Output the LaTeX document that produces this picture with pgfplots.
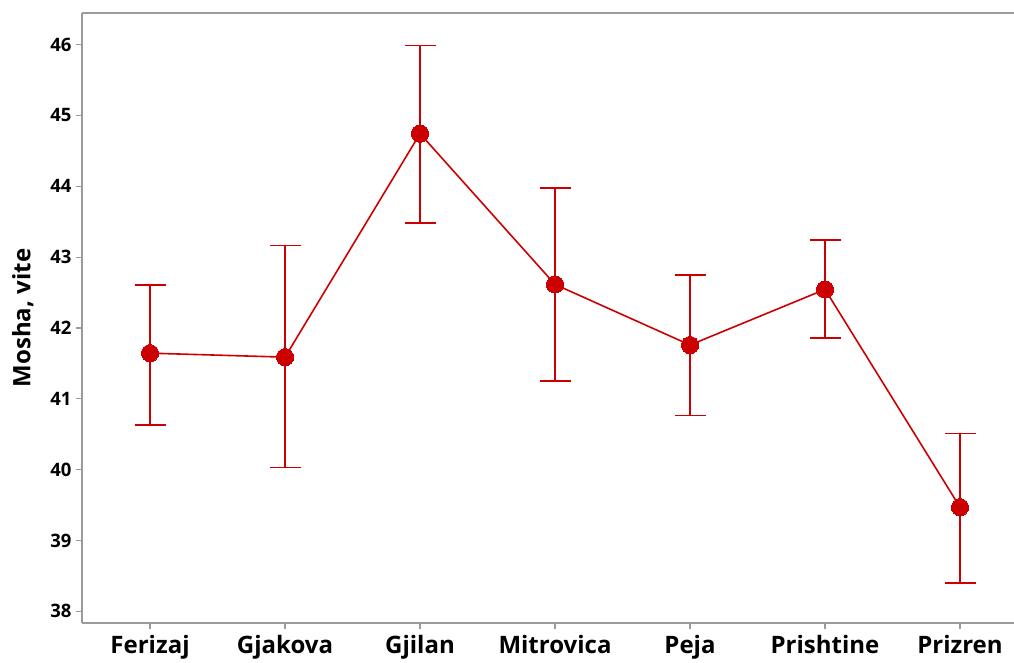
\documentclass[border=0pt]{standalone}
\usepackage{pgfplots}
\pgfplotsset{compat=1.18}
\usepackage{pgfplotstable}
\usepackage{fontspec}
\setmainfont{Open Sans}
\definecolor{mred}{RGB}{204,0,0}
\definecolor{axgray}{RGB}{155,155,155}
\pgfplotstableread{
x y ep em
0 41.644 0.966 1.011
1 41.588 1.577 1.558
2 44.743 1.243 1.257
3 42.614 1.361 1.360
4 41.759 0.991 0.995
5 42.544 0.692 0.688
6 39.470 1.040 1.070
}\datatable
\begin{document}
\begin{tikzpicture}
\begin{axis}[
  scale only axis,
  width=932pt, height=610pt,
  xmin=-0.504, xmax=6.4,
  ymin=37.835, ymax=46.446,
  axis x line*=bottom, axis y line*=left,
  axis line style={axgray, line width=1.5pt, -},
  xtick={0,1,2,3,4,5,6},
  xticklabels={Ferizaj,Gjakova,Gjilan,Mitrovica,Peja,Prishtine,Prizren},
  ytick={38,39,40,41,42,43,44,45,46},
  tick style={axgray, line width=1.2pt},
  major tick length=6pt,
  tick align=outside,
  /pgf/number format/assume math mode=true,
  xticklabel style={font=\fontsize{24}{28}\selectfont\bfseries, yshift=-3pt},
  yticklabel style={font=\fontsize{18.5}{22}\selectfont\bfseries, xshift=-1pt},
  ylabel={Mosha, vite},
  ylabel shift=10pt,
  ylabel style={font=\fontsize{24}{28}\selectfont\bfseries},
  clip=false,
]
\addplot[mred, line width=1.6pt, mark=*, mark size=8.6pt,
  mark options={fill=mred, draw=mred, line width=0pt},
  error bars/.cd, y dir=both, y explicit,
  error bar style={line width=1.8pt, mred},
  error mark options={rotate=90, mark size=15.5pt, line width=1.8pt, mred}]
  table[x=x, y=y, y error plus=ep, y error minus=em]{\datatable};
\draw[axgray, line width=1.5pt] (rel axis cs:0,1) -- (rel axis cs:1,1);
\coordinate (bl) at (rel axis cs:0,0);
\end{axis}
\pgfresetboundingbox
\path (bl) ++(-82pt,-39pt) rectangle ++(1014pt,662pt);
\end{tikzpicture}
\end{document}
